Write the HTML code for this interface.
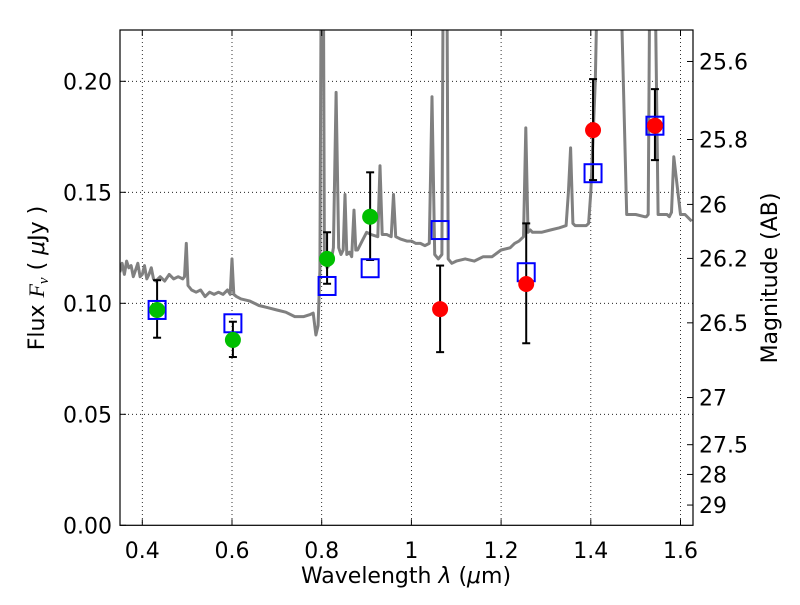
<!DOCTYPE html>
<html><head><meta charset="utf-8"><style>
body{margin:0;background:#fff}
svg text{font-family:"DejaVu Sans","Liberation Sans",sans-serif;fill:#000}
</style></head><body>
<svg id="chart" width="800" height="600" xmlns="http://www.w3.org/2000/svg">
<defs><clipPath id="clip"><rect x="120" y="30" width="573" height="495.3"/></clipPath></defs>
<g id="grid"></g>
<g id="spec" clip-path="url(#clip)"></g>
<g id="marks" clip-path="url(#clip)"></g>
<rect x="120" y="30" width="573" height="495.3" fill="none" stroke="#000" stroke-width="1.2"/>
<g id="axes"></g>
<text x="406" y="583" font-size="22" text-anchor="middle">Wavelength  <tspan font-style="italic">λ</tspan> (<tspan font-style="italic">μ</tspan>m)</text>
<text transform="translate(44,278) rotate(-90)" font-size="22" text-anchor="middle">Flux  <tspan font-style="italic" font-family="Liberation Serif">F<tspan font-size="15" dy="4">ν</tspan></tspan><tspan dy="-4">  ( </tspan><tspan font-style="italic">μ</tspan>Jy )</text>
<text transform="translate(777,278) rotate(-90)" font-size="22" text-anchor="middle">Magnitude (AB)</text>
</svg>
<script>
const xTicks=[0.4,0.6,0.8,1.0,1.2,1.4,1.6];
const xTickLabels=["0.4","0.6","0.8","1","1.2","1.4","1.6"];
const yTicks=[0,0.05,0.10,0.15,0.20];
const yTickLabels=["0.00","0.05","0.10","0.15","0.20"];
const magTicks=[25.6,25.8,26,26.2,26.5,27,27.5,28,29];
const magLabels=["25.6","25.8","26","26.2","26.5","27","27.5","28","29"];
const greenLam=[0.433,0.602,0.812,0.908];
const greenFlux=[0.097,0.0835,0.120,0.139];
const greenLo=[0.0845,0.0758,0.1088,0.1195];
const greenHi=[0.1104,0.0917,0.132,0.159];
const redLam=[1.064,1.256,1.405,1.543];
const redFlux=[0.0974,0.1087,0.178,0.180];
const redLo=[0.078,0.082,0.1555,0.1645];
const redHi=[0.117,0.136,0.201,0.1965];
const modelLam=[0.433,0.602,0.812,0.908,1.064,1.256,1.405,1.543];
const modelFlux=[0.097,0.091,0.1078,0.1158,0.133,0.114,0.1586,0.180];
const specLam=[0.35,0.355,0.36,0.365,0.37,0.375,0.38,0.385,0.39,0.395,0.40,0.405,0.41,0.415,0.42,0.425,0.43,0.44,0.45,0.46,0.47,0.48,0.49,0.494,0.498,0.502,0.51,0.52,0.53,0.54,0.55,0.56,0.57,0.58,0.59,0.596,0.6,0.604,0.61,0.62,0.64,0.66,0.68,0.70,0.72,0.74,0.76,0.775,0.781,0.787,0.792,0.796,0.80,0.803,0.806,0.812,0.82,0.826,0.832,0.838,0.843,0.848,0.852,0.856,0.862,0.867,0.872,0.876,0.88,0.89,0.90,0.91,0.925,0.93,0.935,0.945,0.955,0.96,0.965,0.975,0.99,1.0,1.01,1.02,1.03,1.04,1.046,1.052,1.06,1.068,1.072,1.075,1.078,1.082,1.09,1.1,1.12,1.14,1.16,1.18,1.2,1.22,1.23,1.24,1.25,1.255,1.26,1.265,1.27,1.29,1.31,1.33,1.345,1.35,1.355,1.36,1.365,1.38,1.39,1.395,1.40,1.41,1.42,1.43,1.44,1.45,1.455,1.46,1.48,1.5,1.52,1.524,1.528,1.533,1.54,1.55,1.56,1.57,1.575,1.58,1.585,1.6,1.61,1.625];
const specFlux=[0.114,0.118,0.113,0.119,0.116,0.117,0.112,0.115,0.118,0.112,0.113,0.117,0.111,0.113,0.116,0.111,0.110,0.112,0.110,0.113,0.111,0.112,0.111,0.112,0.127,0.108,0.106,0.105,0.106,0.103,0.105,0.104,0.105,0.104,0.106,0.104,0.120,0.104,0.103,0.102,0.101,0.099,0.098,0.097,0.096,0.094,0.094,0.095,0.0956,0.0857,0.09,0.115,0.30,0.30,0.12,0.116,0.118,0.125,0.195,0.125,0.122,0.124,0.149,0.122,0.123,0.121,0.142,0.124,0.124,0.128,0.132,0.131,0.130,0.162,0.131,0.131,0.130,0.149,0.130,0.129,0.128,0.128,0.127,0.127,0.126,0.127,0.193,0.122,0.120,0.122,0.30,0.30,0.30,0.120,0.118,0.119,0.120,0.119,0.121,0.121,0.124,0.125,0.127,0.128,0.130,0.179,0.132,0.133,0.132,0.132,0.133,0.134,0.135,0.150,0.170,0.136,0.135,0.135,0.135,0.136,0.150,0.20,0.30,0.30,0.23,0.30,0.30,0.30,0.140,0.140,0.139,0.139,0.140,0.30,0.30,0.140,0.140,0.140,0.139,0.141,0.166,0.140,0.140,0.137,0.134,0.133];

const X0=142.3,XS=448.5,Y0=525.3,YS=2220;
const xs=l=>X0+(l-0.4)*XS;
const ys=f=>Y0-f*YS;
const magToFlux=m=>Math.pow(10,(23.9-m)/2.5);
const NS="http://www.w3.org/2000/svg";
function mk(tag,attrs,parent){const e=document.createElementNS(NS,tag);for(const k in attrs)e.setAttribute(k,attrs[k]);parent.appendChild(e);return e;}
const grid=document.getElementById('grid'),axes=document.getElementById('axes');
xTicks.forEach((t,i)=>{
  const gl=mk('line',{x1:xs(t),x2:xs(t),y1:30,y2:Y0,stroke:'#000','stroke-width':0.8,'stroke-dasharray':'1,3'},grid);
  
  
  const tk=mk('line',{x1:xs(t),x2:xs(t),y1:Y0,y2:Y0-6,stroke:'#000'},axes);
  
  
  mk('line',{x1:xs(t),x2:xs(t),y1:30,y2:36,stroke:'#000'},axes);
  const tx=mk('text',{x:xs(t),y:558,'font-size':22,'text-anchor':'middle'},axes);
  tx.textContent=xTickLabels[i];
  
  
});
yTicks.forEach((t,i)=>{
  if(t>0){
    const gl=mk('line',{x1:120,x2:693,y1:ys(t),y2:ys(t),stroke:'#000','stroke-width':0.8,'stroke-dasharray':'1,3'},grid);
    
    
  }
  const tk=mk('line',{x1:120,x2:126,y1:ys(t),y2:ys(t),stroke:'#000'},axes);
  
  
  const tx=mk('text',{x:112,y:ys(t)+8,'font-size':22,'text-anchor':'end'},axes);
  tx.textContent=yTickLabels[i];
  
  
});
magTicks.forEach((m,i)=>{
  const y=ys(magToFlux(m));
  const tk=mk('line',{x1:687,x2:693,y1:y,y2:y,stroke:'#000'},axes);
  
  
  const tx=mk('text',{x:699,y:y+8,'font-size':22},axes);
  tx.textContent=magLabels[i];
  
  
});
const spec=document.getElementById('spec');
const p=mk('polyline',{points:specLam.map((l,i)=>xs(l).toFixed(1)+','+ys(specFlux[i]).toFixed(1)).join(' '),fill:'none',stroke:'#808080','stroke-width':3,'stroke-linejoin':'round'},spec);


const marks=document.getElementById('marks');
function err(l,lo,hi,name){
  const g=mk('g',{stroke:'#000','stroke-width':2},marks);
  
  
  mk('line',{x1:xs(l),x2:xs(l),y1:ys(lo),y2:ys(hi)},g);
  mk('line',{x1:xs(l)-4,x2:xs(l)+4,y1:ys(lo),y2:ys(lo)},g);
  mk('line',{x1:xs(l)-4,x2:xs(l)+4,y1:ys(hi),y2:ys(hi)},g);
}
greenLam.forEach((l,i)=>err(l,greenLo[i],greenHi[i],'green-errorbar'));
redLam.forEach((l,i)=>err(l,redLo[i],redHi[i],'red-errorbar'));
modelLam.forEach((l,i)=>{
  const r=mk('rect',{x:xs(l)-8.5,y:ys(modelFlux[i])-9,width:17,height:18,fill:'none',stroke:'#0000ff','stroke-width':2},marks);
  
  
});
greenLam.forEach((l,i)=>{
  const c=mk('circle',{cx:xs(l),cy:ys(greenFlux[i]),r:8,fill:'#00bf00'},marks);
  
  
});
redLam.forEach((l,i)=>{
  const c=mk('circle',{cx:xs(l),cy:ys(redFlux[i]),r:8,fill:'#ff0000'},marks);
  
  
});
</script>
</body></html>
